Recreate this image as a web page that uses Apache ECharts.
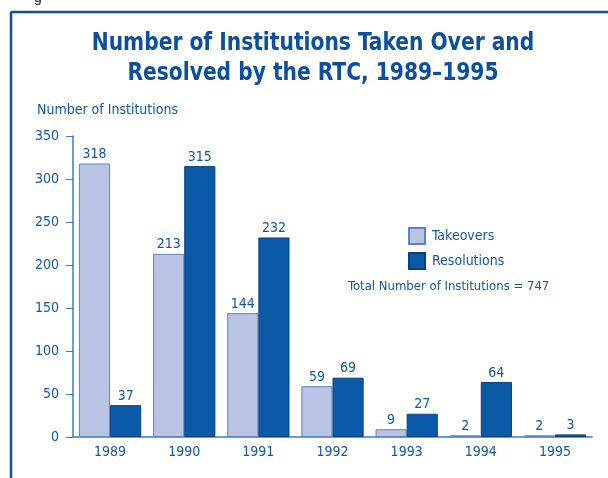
<!DOCTYPE html>
<html><head><meta charset="utf-8">
<script src="https://cdn.jsdelivr.net/npm/echarts@6/dist/echarts.min.js"></script>
<style>html,body{margin:0;padding:0;background:#fff}#c{width:608px;height:478px}</style>
</head><body><div id="c"></div>
<script>
const categories = ['1989','1990','1991','1992','1993','1994','1995'];
const takeovers = [318,213,144,59,9,2,2];
const resolutions = [37,315,232,69,27,64,3];

const FONT = '"Liberation Sans Narrow","DejaVu Sans Condensed",sans-serif';
const BLUE = '#1457a3';
const chart = echarts.init(document.getElementById('c'));
chart.setOption({
  animation:false,
  textStyle:{fontFamily:FONT},
  legend:{
    orient:'vertical', left:408, top:227, padding:0, itemWidth:16, itemHeight:16, itemGap:7,
    icon:'rect',
    textStyle:{fontFamily:FONT,fontSize:14,color:BLUE,padding:[0,0,0,2]},
    data:['Takeovers','Resolutions']
  },
  grid:{left:73,right:16,top:136,bottom:41},
  xAxis:{
    type:'category', data:categories,
    axisLine:{lineStyle:{color:'#3f78c0',width:1.5}},
    axisTick:{show:false},
    axisLabel:{color:BLUE,fontSize:14,fontFamily:FONT,margin:8}
  },
  yAxis:{
    type:'value', min:0, max:350, interval:50,
    name:'Number of Institutions', nameLocation:'end',
    nameTextStyle:{color:BLUE,fontSize:14,fontFamily:FONT,align:'left',padding:[0,0,4,-36]},
    axisLine:{show:true,lineStyle:{color:'#3f78c0',width:1.5}},
    axisTick:{show:true,length:7,lineStyle:{color:'#3f78c0'}},
    axisLabel:{color:BLUE,fontSize:14,fontFamily:FONT,margin:14},
    splitLine:{show:false}
  },
  series:[
    {name:'Takeovers',type:'bar',data:takeovers,barGap:'0%',barCategoryGap:'16%',
     itemStyle:{color:'#b9c3e3',borderColor:'#5b84c4',borderWidth:1},
     label:{show:true,position:'top',color:BLUE,fontSize:14,fontFamily:FONT,distance:2}},
    {name:'Resolutions',type:'bar',data:resolutions,
     itemStyle:{color:'#0a5aa8',borderColor:'#0a3f80',borderWidth:1},
     label:{show:true,position:'top',color:BLUE,fontSize:14,fontFamily:FONT,distance:2}}
  ],
  graphic:[
    {type:'line',shape:{x1:11,y1:12,x2:608,y2:12},style:{stroke:'#0b4f9e',lineWidth:2.5}},
    {type:'line',shape:{x1:11,y1:12,x2:11,y2:478},style:{stroke:'#0b4f9e',lineWidth:2.5}},
    {type:'text',x:313,y:43,scaleX:0.9,style:{text:'Number of Institutions Taken Over and',fill:'#0b4f9e',font:'bold 25px '+FONT,textAlign:'center',textVerticalAlign:'middle'}},
    {type:'text',x:313,y:73,scaleX:0.9,style:{text:'Resolved by the RTC, 1989\u20131995',fill:'#0b4f9e',font:'bold 25px '+FONT,textAlign:'center',textVerticalAlign:'middle'}},
    {type:'text',left:348,top:280,style:{text:'Total Number of Institutions = 747',fill:BLUE,font:'13px '+FONT}},
    {type:'text',left:34,top:-9,style:{text:'g',fill:'#222',font:'14px sans-serif'}}
  ]
});
</script></body></html>
